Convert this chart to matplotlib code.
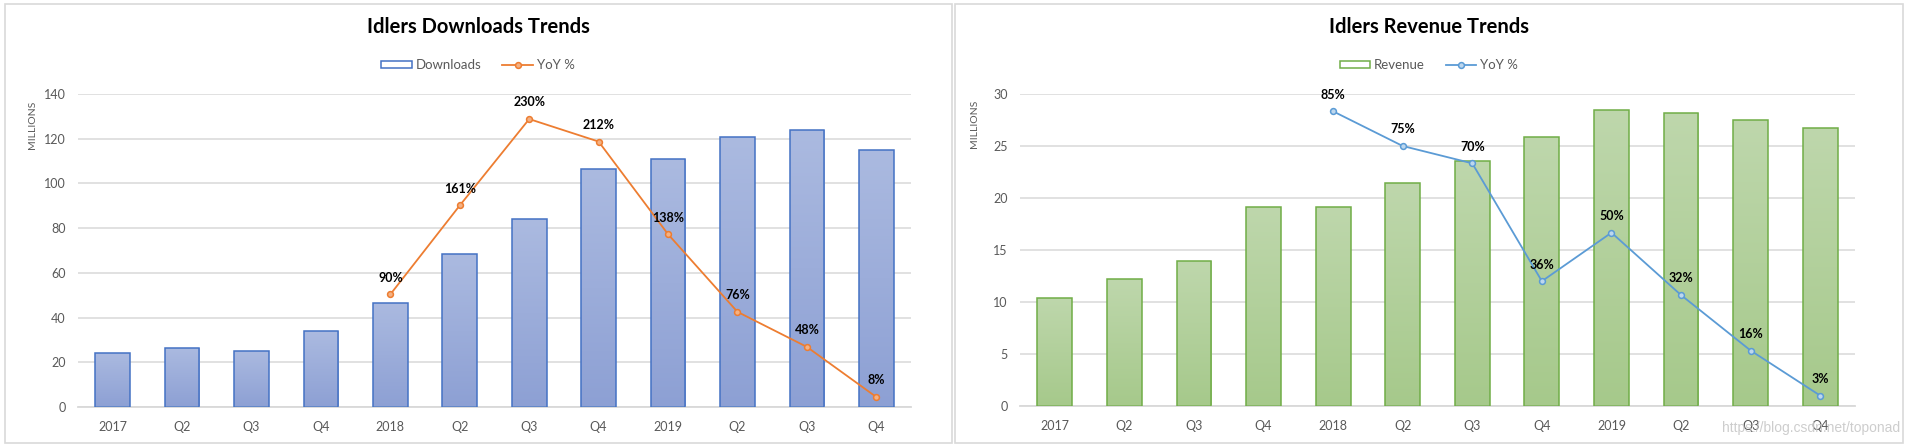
import numpy as np
import matplotlib
matplotlib.use('Agg')
import matplotlib.pyplot as plt
from matplotlib.colors import LinearSegmentedColormap
from matplotlib.patches import Rectangle

plt.rcParams['font.family'] = ['Lato', 'DejaVu Sans']

quarters = ['2017', 'Q2', 'Q3', 'Q4', '2018', 'Q2', 'Q3', 'Q4', '2019', 'Q2', 'Q3', 'Q4']
downloads = [24.3, 26.4, 25.1, 33.9, 46.7, 68.4, 84.0, 106.3, 110.9, 120.6, 123.9, 115.1]
downloads_yoy = [90, 161, 230, 212, 138, 76, 48, 8]       # from 2018 on
revenue = [10.4, 12.2, 13.9, 19.1, 19.1, 21.4, 23.6, 25.9, 28.5, 28.2, 27.5, 26.7]
revenue_yoy = [85, 75, 70, 36, 50, 32, 16, 3]             # from 2018 on

GREY = '#595959'
GRID = '#D9D9D9'
W, H = 1909, 447


def gradient_bars(ax, bars, top, bottom):
    cmap = LinearSegmentedColormap.from_list('grad', [bottom, top])
    grad = np.linspace(0, 1, 128).reshape(-1, 1)
    for bar in bars:
        x0, y0 = bar.get_xy()
        im = ax.imshow(grad, extent=(x0, x0 + bar.get_width(), y0, y0 + bar.get_height()),
                       origin='lower', aspect='auto', cmap=cmap, zorder=2)
        im.set_clip_path(bar)


def draw_chart(fig, rect, title, values, yoy, ymax, ystep, yoy_max,
               bar_name, edge, top, bottom, line_color, marker_fill, center_x):
    ax = fig.add_axes(rect)
    x = np.arange(len(values))
    bars = ax.bar(x, values, width=0.5, facecolor='none', edgecolor=edge,
                  linewidth=1.1, zorder=3, label=bar_name)
    gradient_bars(ax, bars, top, bottom)
    ax.set_xlim(-0.5, len(values) - 0.5)
    ax.set_ylim(0, ymax)
    ax.set_yticks(np.arange(0, ymax + ystep / 2, ystep))
    ax.set_xticks(x)
    ax.set_xticklabels(quarters)
    ax.grid(axis='y', color=GRID, linewidth=1.1, zorder=0)
    ax.set_axisbelow(True)
    for s in ['top', 'right', 'left']:
        ax.spines[s].set_visible(False)
    ax.spines['bottom'].set_color(GRID)
    ax.spines['bottom'].set_linewidth(1.3)
    ax.tick_params(length=0, labelsize=9, colors=GREY)
    ax.tick_params(axis='y', pad=9)
    ax.tick_params(axis='x', pad=10)
    ax.text(-0.055, 0.98, 'MILLIONS', transform=ax.transAxes, rotation=90,
            ha='center', va='top', fontsize=7.5, color=GREY)

    ax2 = ax.twinx()
    ax2.set_ylim(0, yoy_max)
    ax2.axis('off')
    xs = x[len(values) - len(yoy):]
    ax2.plot(xs, yoy, color=line_color, linewidth=1.3, marker='o', markersize=4.2,
             markerfacecolor=marker_fill, markeredgewidth=1.1, zorder=4, label='YoY %')
    for xi, v in zip(xs, yoy):
        ax2.annotate(f'{v}%', (xi, v), xytext=(0, 12), textcoords='offset points',
                     ha='center', va='center', fontsize=9, fontweight='bold',
                     color='black', zorder=5)

    fig.text(center_x, 1 - 27 / H, title, ha='center', va='center',
             fontsize=14.5, fontweight='bold', color='black')
    h1, l1 = ax.get_legend_handles_labels()
    h2, l2 = ax2.get_legend_handles_labels()
    leg = fig.legend(h1 + h2, l1 + l2, loc='center', ncol=2,
                     bbox_to_anchor=(center_x, 1 - 65 / H), frameon=False,
                     fontsize=9.5, handlelength=2.3, handleheight=0.45,
                     columnspacing=1.6, handletextpad=0.3)
    for t in leg.get_texts():
        t.set_color(GREY)
    return ax


fig = plt.figure(figsize=(W / 100, H / 100), dpi=100)

draw_chart(fig, [78 / W, 40 / H, 833 / W, 313 / H], 'Idlers Downloads Trends',
           downloads, downloads_yoy, 140, 20, 250, 'Downloads',
           '#4472C4', '#ABBAE0', '#8DA0D4', '#ED7D31', '#F4B183', 478 / W)
draw_chart(fig, [1020 / W, 41 / H, 835 / W, 312 / H], 'Idlers Revenue Trends',
           revenue, revenue_yoy, 30, 5, 90, 'Revenue',
           '#70AD47', '#BED7AC', '#A6C98B', '#5B9BD5', '#BDD7EE', 1429 / W)

# chart frames
for x0, x1 in [(5, 952), (955, 1903)]:
    fig.patches.append(Rectangle((x0 / W, 4 / H), (x1 - x0) / W, (443 - 4) / H,
                                 transform=fig.transFigure, fill=False,
                                 edgecolor=GRID, linewidth=1.2))

fig.text(1900 / W, 1 - 428 / H, 'https://blog.csdn.net/toponad', ha='right', va='center',
         fontsize=10, color='#C8C8C8', alpha=0.9, family=['Liberation Sans', 'DejaVu Sans'])

fig.savefig('out.png', dpi=100)
